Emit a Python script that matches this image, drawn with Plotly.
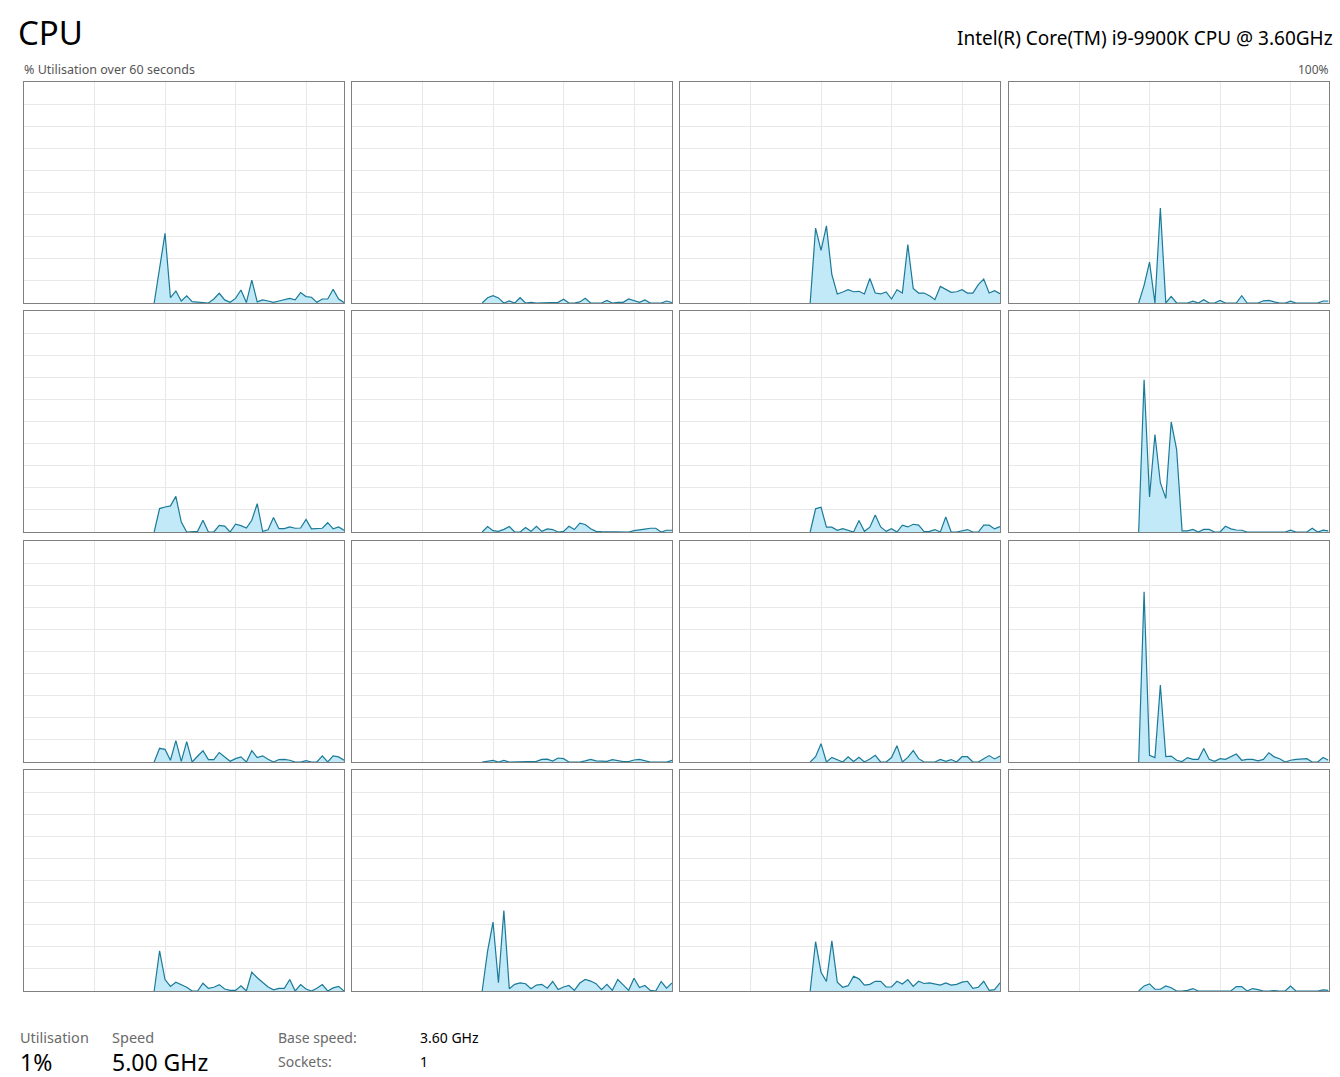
import plotly.graph_objects as go

# ---- data: % utilisation per logical processor, one sample per second ----
seconds = list(range(24, 60))  # samples shown in the 60 s window (index 0..59)

cpu0 = [0, 16, 31.5, 2.4, 5.4, 0.9, 3.2, 0.6, 0.3, 0.3, 0, 1.8, 4.4, 1.4, 0.3, 2.1, 5.9, 0.2,
        10.4, 0.5, 1.4, 0.9, 0.3, 0.9, 1.4, 2.1, 1.4, 4.7, 2.9, 2.6, 0.3, 1.8, 1.8, 6.2, 1.8, 0.2]
cpu1 = [0, 2.4, 3.3, 2.3, 0, 0.9, 0, 2.4, 0, 0.3, 0, 0, 0, 0, 0.3, 1.7, 0, 0,
        0.5, 2.1, 0, 0, 0, 1.2, 0, 0.3, 0.3, 1.8, 1.2, 0.3, 1.4, 0, 0, 0, 0.9, 0.2]
cpu2 = [0, 33.9, 23.8, 34.9, 12.8, 4.1, 5.0, 6.0, 5.1, 5.3, 4.1, 11.1, 4.5, 4.1, 5.0, 1.8, 6.0, 4.5,
        26.4, 6.6, 4.5, 4.5, 3.3, 1.5, 7.5, 6.0, 4.8, 5.1, 6.0, 4.5, 4.5, 8.3, 10.8, 4.5, 5.6, 4.2]
cpu3 = [0, 8, 18.5, 0, 43, 0, 3, 0, 0, 0, 0.8, 0, 1.5, 0, 0, 1.2, 0, 0,
        0, 3.3, 0, 0, 0, 1.0, 1.2, 0.5, 0, 0, 0.8, 0, 0, 0, 0, 0, 0.9, 0.9]
cpu4 = [0, 10.6, 11.3, 11.8, 16.1, 4.5, 0, 0, 0.3, 5.3, 0, 0, 3.0, 2.7, 0, 3.5, 2.9, 1.8,
        5.3, 12.8, 0.3, 1.0, 6.6, 1.5, 1.5, 2.3, 1.7, 1.8, 5.7, 1.4, 1.4, 1.7, 4.2, 1.4, 2.3, 0.8]
cpu5 = [0, 2.5, 0.6, 0.3, 1.2, 2.5, 0, 0, 2.0, 0.3, 2.6, 0.3, 1.4, 1.1, 0, 0.3, 2.6, 1.1,
        4.0, 3.4, 1.5, 0.3, 0.2, 0.2, 0, 0.3, 0, 0, 0.6, 1.1, 1.3, 1.7, 1.7, 0, 0.8, 0.8]
cpu6 = [0, 10.5, 11.2, 2.2, 2.2, 0.8, 1.5, 0.9, 0, 5.2, 0.3, 2.2, 7.7, 2.3, 0.3, 1.5, 0, 3.1,
        2.3, 3.5, 3.1, 0.2, 0.3, 1.1, 0, 6.8, 0, 0, 0.6, 1.1, 0, 0, 3.1, 3.1, 1.4, 2.5]
cpu7 = [0, 68.9, 15.9, 44.1, 22.3, 15.2, 49.8, 37.3, 0.5, 0.5, 1.2, 0, 1.2, 1.2, 0, 0, 2.6, 1.4,
        0.9, 0.8, 0, 0, 0, 0, 0, 0.3, 0, 0, 0.8, 0, 0, 0, 1.7, 0, 0.8, 0.5]
cpu8 = [0, 6.2, 5.7, 0.8, 9.7, 0.3, 9.2, 0, 2.6, 5.1, 1.1, 1.1, 4.3, 2.3, 0.3, 1.5, 2.3, 0,
        5.1, 2.0, 2.8, 1.2, 0, 1.1, 1.2, 0.8, 0, 0, 0.6, 0, 0, 2.8, 0, 2.8, 2.3, 0.8]
cpu9 = [0, 0.3, 0.7, 0, 0.7, 0, 0, 0, 0, 0.3, 0.3, 1.2, 1.3, 0.4, 1.8, 1.5, 0, 0,
        0, 0.5, 1.2, 0.5, 0.3, 0.3, 1.1, 0.6, 0.2, 0.2, 0.9, 1.2, 0.6, 0, 0, 0, 0, 0.7]
cpu10 = [0, 2.4, 8.3, 0, 2.1, 1.1, 0, 2.4, 0.2, 2.1, 0, 1.4, 3.0, 0, 0, 2.0, 7.4, 0,
         2.1, 5.2, 1.5, 0, 0, 0, 1.2, 0.3, 1.1, 0, 2.4, 2.4, 0, 0, 1.5, 2.9, 1.4, 2.7]
cpu11 = [0, 77, 3.0, 2.0, 34.8, 2.4, 2.7, 0.8, 0.2, 2.0, 1.2, 1.2, 6.1, 1.2, 0.3, 1.5, 1.2, 2.3,
         3.6, 0.8, 1.2, 1.2, 0.5, 1.2, 4.2, 2.3, 1.5, 0, 0.8, 1.2, 1.2, 1.5, 0, 0, 2.0, 0.8]
cpu12 = [0, 18.2, 5.2, 2.1, 4.0, 2.7, 1.7, 0, 0, 3.5, 1.2, 1.7, 2.9, 0.9, 0.3, 0.3, 2.4, 0,
         8.5, 6.0, 3.7, 1.8, 0.5, 1.2, 1.2, 5.2, 0, 2.9, 0.9, 0, 1.2, 2.9, 0, 1.4, 2.1, 0]
cpu13 = [0, 18, 31.2, 3.7, 36.4, 1.0, 3.0, 3.7, 3.3, 1.0, 2.7, 3.0, 1.3, 4.3, 0.7, 1.8, 2.5, 0.3,
         3.6, 5.2, 4.5, 3.3, 0.6, 3.0, 0.3, 5.2, 2.8, 0.3, 5.8, 1.6, 2.5, 0.3, 0, 4.3, 1.3, 3.6]
cpu14 = [0, 22.3, 8.5, 4.3, 22.7, 4.0, 1.7, 2.4, 6.7, 5.5, 2.7, 3.0, 4.4, 4.4, 1.8, 1.8, 4.4, 3.2,
         5.2, 2.1, 4.4, 3.4, 3.7, 3.2, 2.7, 3.7, 2.7, 3.0, 4.0, 4.4, 1.2, 1.7, 4.4, 0.3, 0.6, 3.7]
cpu15 = [0, 2.3, 3.2, 0.8, 0.8, 2.3, 1.5, 0, 0, 0.3, 1.1, 0, 0, 0, 0, 0.3, 0, 0,
         2.0, 2.0, 0, 1.1, 0.6, 0, 0, 0.2, 0, 0, 2.2, 0, 0, 0, 0, 0, 0.5, 0.3]

series = [cpu0, cpu1, cpu2, cpu3, cpu4, cpu5, cpu6, cpu7,
          cpu8, cpu9, cpu10, cpu11, cpu12, cpu13, cpu14, cpu15]

# ---- layout geometry (pixels) ----
W, H = 1340, 1077
col_left = [24, 352, 680, 1008.5]
panel_w = 320
row_top = [82, 311, 541, 770]
panel_h = 221

LINE = "#1b7a98"
FILL = "#c2e9f8"
BORDER = "#808080"
GRID = "#e8e8e8"
FONT = "Segoe UI, Noto Sans, sans-serif"

fig = go.Figure()
layout_axes = {}
for i, vals in enumerate(series):
    r, c = divmod(i, 4)
    n = i + 1
    xa = "x" if n == 1 else f"x{n}"
    ya = "y" if n == 1 else f"y{n}"
    fig.add_trace(go.Scatter(
        x=seconds, y=vals, xaxis=xa, yaxis=ya, mode="lines",
        line=dict(color=LINE, width=1.2), fill="tozeroy", fillcolor=FILL,
        hoverinfo="skip", showlegend=False, cliponaxis=True))
    x0 = col_left[c] / W
    x1 = (col_left[c] + panel_w) / W
    y1 = 1 - row_top[r] / H
    y0 = 1 - (row_top[r] + panel_h) / H
    kx = "xaxis" if n == 1 else f"xaxis{n}"
    ky = "yaxis" if n == 1 else f"yaxis{n}"
    layout_axes[kx] = dict(domain=[x0, x1], range=[0, 59], anchor=ya,
                           tickvals=[13.0, 26.0, 39.05, 52.05], showticklabels=False,
                           showgrid=True, gridcolor=GRID, gridwidth=1, zeroline=False,
                           showline=True, mirror=True, linecolor=BORDER, linewidth=1,
                           ticks="", fixedrange=True)
    layout_axes[ky] = dict(domain=[y0, y1], range=[0, 100], anchor=xa,
                           tickvals=list(range(10, 100, 10)), showticklabels=False,
                           showgrid=True, gridcolor=GRID, gridwidth=1, zeroline=False,
                           showline=True, mirror=True, linecolor=BORDER, linewidth=1,
                           ticks="", fixedrange=True)

fig.update_layout(**layout_axes)


def txt(s, x, y, size, color="#000000", anchor="left"):
    fig.add_annotation(text=s, x=x / W, y=1 - y / H, xref="paper", yref="paper",
                       xanchor=anchor, yanchor="middle", showarrow=False,
                       font=dict(family=FONT, size=size, color=color))


txt("CPU", 16, 33, 33)
txt("Intel(R) Core(TM) i9-9900K CPU @ 3.60GHz", 1335, 38, 19, anchor="right")
txt("% Utilisation over 60 seconds", 22, 69, 12.5, "#555555")
txt("100%", 1331, 69, 12, "#555555", anchor="right")
txt("Utilisation", 18, 1037, 14.5, "#6a6a6a")
txt("Speed", 110, 1037, 14.5, "#6a6a6a")
txt("1%", 18, 1062, 23)
txt("5.00 GHz", 110, 1062, 23)
txt("Base speed:", 276, 1037, 14, "#6a6a6a")
txt("3.60 GHz", 418, 1037, 14)
txt("Sockets:", 276, 1061, 14, "#6a6a6a")
txt("1", 418, 1061, 14)

fig.update_layout(width=W, height=H, margin=dict(l=0, r=0, t=0, b=0),
                  paper_bgcolor="white", plot_bgcolor="white", showlegend=False)

fig.write_html("out.html", config={"displayModeBar": False},
               post_script="document.body.style.margin='0';document.body.style.overflow='hidden';")
